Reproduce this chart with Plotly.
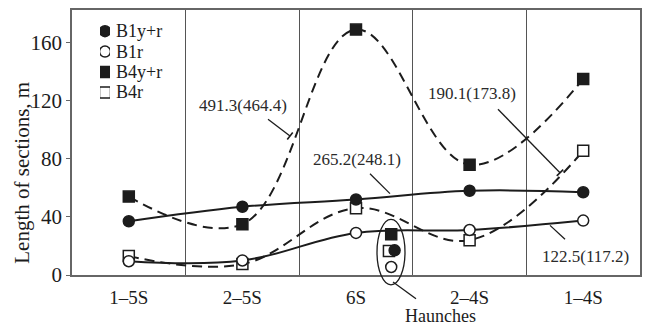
import plotly.graph_objects as go

# ---------------- data ----------------
categories = ["1–5S", "2–5S", "6S", "2–4S", "1–4S"]
series_names = ["B1y+r", "B1r", "B4y+r", "B4r"]
b1_yr = [37, 47, 52, 58, 57]
b1_r = [9.5, 10, 29, 31, 37.5]
b4_yr = [54, 35, 169, 76, 135]
b4_r = [13, 7.5, 46, 24, 85.5]
# haunch values (plotted next to the 6S column)
haunch_vals = {"B1y+r": 17, "B1r": 5.5, "B4y+r": 28, "B4r": 16.5}
y_ticks = [0, 40, 80, 120, 160]
notes = ["491.3(464.4)", "265.2(248.1)", "190.1(173.8)", "122.5(117.2)"]
haunch_label = "Haunches"
y_title = "Length of sections, m"

# ---------------- geometry helpers ----------------
W, H = 650, 327
L, R, T, B = 72, 10, 8, 52
YMAX = 182.5
PW, PH = W - L - R, H - T - B
XR = (-0.5, 4.5)


def dx(px):
    return XR[0] + (px - L) / PW * (XR[1] - XR[0])


def dy(py):
    return (H - B - py) / PH * YMAX


def paper_x(px):
    return (px - L) / PW


def paper_y(py):
    return (H - B - py) / PH


FONT = "Liberation Serif"
INK = "#1c1c1c"
xs = list(range(len(categories)))

styles = {
    "B1y+r": dict(vals=b1_yr, sym="circle", fill=INK, dash="solid"),
    "B1r": dict(vals=b1_r, sym="circle", fill="white", dash="solid"),
    "B4y+r": dict(vals=b4_yr, sym="square", fill=INK, dash="10px,6px"),
    "B4r": dict(vals=b4_r, sym="square", fill="white", dash="10px,6px"),
}

fig = go.Figure()

draw_order = ["B4r", "B4y+r", "B1r", "B1y+r"]
for name in draw_order:
    st = styles[name]
    fig.add_trace(go.Scatter(
        x=xs, y=st["vals"], mode="lines+markers", name=name,
        line=dict(color=INK, width=2, dash=st["dash"], shape="spline", smoothing=1.1),
        marker=dict(symbol=st["sym"], size=11, color=st["fill"],
                    line=dict(color=INK, width=1.5)),
        showlegend=False, cliponaxis=False, hoverinfo="skip",
    ))

# haunch points
haunch_x = {"B1y+r": 2.34, "B1r": 2.31, "B4y+r": 2.31, "B4r": 2.29}
for name in ["B4r", "B1r", "B4y+r", "B1y+r"]:
    st = styles[name]
    fig.add_trace(go.Scatter(
        x=[haunch_x[name]], y=[haunch_vals[name]], mode="markers",
        marker=dict(symbol=st["sym"], size=11, color=st["fill"],
                    line=dict(color=INK, width=1.5)),
        showlegend=False, hoverinfo="skip",
    ))

# custom legend on its own small axes
row_h = 20.6
leg_top = 29.3 - row_h / 2
leg_bot = leg_top + row_h * len(series_names)
fig.add_trace(go.Scatter(
    x=[0.5] * len(series_names), y=list(range(len(series_names))),
    mode="markers", xaxis="x2", yaxis="y2", showlegend=False, hoverinfo="skip",
    marker=dict(symbol=[styles[n]["sym"] for n in series_names], size=11,
                color=[styles[n]["fill"] for n in series_names],
                line=dict(color=INK, width=1.5)),
))

annotations = []
for i, n in enumerate(series_names):
    annotations.append(dict(
        x=paper_x(114), xref="paper", y=i, yref="y2", text=n, showarrow=False,
        xanchor="left", yanchor="middle", font=dict(family=FONT, size=18, color=INK)))

note_pos = [(243, 104), (357, 159), (472, 92), (585, 256)]
for t, (px, py) in zip(notes, note_pos):
    annotations.append(dict(
        x=dx(px), y=dy(py), xref="x", yref="y", text=t, showarrow=False,
        xanchor="center", yanchor="middle", font=dict(family=FONT, size=17, color="#2a2a2a")))

annotations.append(dict(
    x=paper_x(440), y=paper_y(316.5), xref="paper", yref="paper", text=haunch_label,
    showarrow=False, xanchor="center", yanchor="middle", borderpad=0,
    font=dict(family=FONT, size=18, color=INK)))
annotations.append(dict(
    x=paper_x(22), y=paper_y(172), xref="paper", yref="paper", text=y_title,
    showarrow=False, textangle=-90, xanchor="center", yanchor="middle",
    font=dict(family=FONT, size=21, color=INK)))

shapes = []


def seg(p0, p1, w=1.3):
    shapes.append(dict(type="line", xref="x", yref="y",
                       x0=dx(p0[0]), y0=dy(p0[1]), x1=dx(p1[0]), y1=dy(p1[1]),
                       line=dict(color=INK, width=w)))


def tick_end(p0, p1, half=4.5):
    vx, vy = p1[0] - p0[0], p1[1] - p0[1]
    n = (vx ** 2 + vy ** 2) ** 0.5
    nx, ny = -vy / n * half, vx / n * half
    seg((p1[0] - nx, p1[1] - ny), (p1[0] + nx, p1[1] + ny), w=1.6)


leaders = [((268, 118), (290, 135), True), ((370, 173), (390, 193), False),
           ((498, 108), (560, 172), True), ((550, 225), (565, 239), False)]
for p0, p1, tk in leaders:
    seg(p0, p1)
    if tk:
        tick_end(p0, p1)

# haunch ellipse and its leader (paper refs so it may go below the axis)
shapes.append(dict(type="circle", xref="paper", yref="paper",
                   x0=paper_x(377), x1=paper_x(405), y0=paper_y(285), y1=paper_y(219),
                   line=dict(color=INK, width=1.3)))
shapes.append(dict(type="line", xref="paper", yref="paper",
                   x0=paper_x(393), y0=paper_y(282), x1=paper_x(416), y1=paper_y(299),
                   line=dict(color=INK, width=1.3)))

fig.update_layout(
    width=W, height=H, margin=dict(l=L, r=R, t=T, b=B),
    paper_bgcolor="white", plot_bgcolor="white",
    showlegend=False, hovermode=False,
    font=dict(family=FONT, color=INK),
    xaxis=dict(range=list(XR), tickvals=xs, ticktext=categories, showgrid=False,
               zeroline=False, showline=True, linecolor="#666", linewidth=1.5,
               mirror=True, ticks="", ticklabelstandoff=4,
               tickfont=dict(family=FONT, size=19, color=INK),
               minor=dict(tickvals=[i + 0.5 for i in xs[:-1]], showgrid=True,
                          gridcolor="#555", gridwidth=1.3, ticks="")),
    yaxis=dict(range=[0, YMAX], tickvals=y_ticks, showgrid=False, zeroline=False,
               showline=True, linecolor="#666", linewidth=1.5, mirror=True,
               ticks="outside", ticklen=4, tickcolor="#666",
               tickfont=dict(family=FONT, size=21, color=INK)),
    xaxis2=dict(domain=[paper_x(100), paper_x(110)], range=[0, 1], visible=False,
                anchor="y2", fixedrange=True),
    yaxis2=dict(domain=[paper_y(leg_bot), paper_y(leg_top)],
                range=[len(series_names) - 0.5, -0.5], visible=False,
                anchor="x2", fixedrange=True),
    annotations=annotations, shapes=shapes,
)

fig.write_html("out.html", config={"displayModeBar": False},
               post_script="document.body.style.margin='0';")
